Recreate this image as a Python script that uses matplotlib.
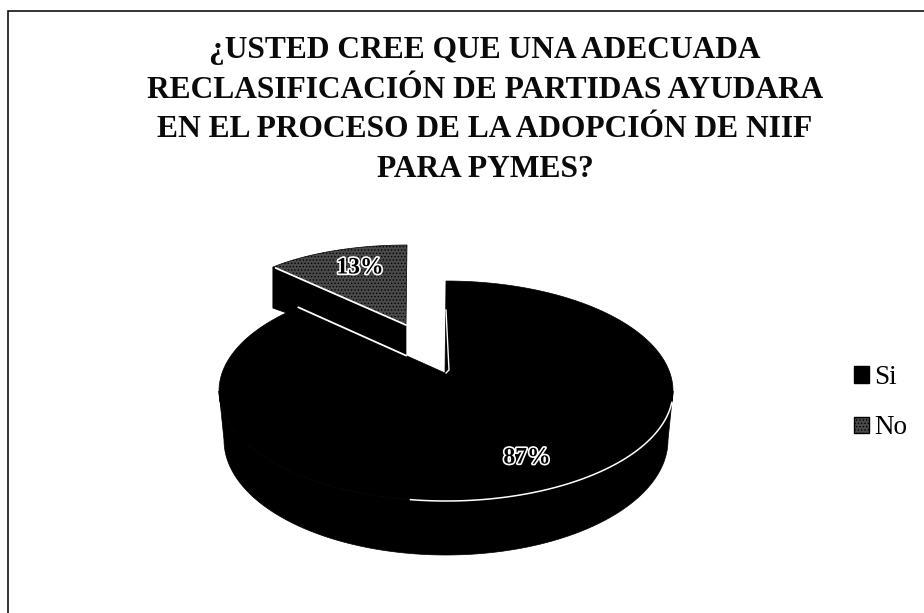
import numpy as np
import matplotlib
matplotlib.use('Agg')
import matplotlib.pyplot as plt
import matplotlib.patheffects as pe
from matplotlib.patches import Polygon, Patch

labels = ['Si', 'No']
valores = [87, 13]
titulo = ('¿USTED CREE QUE UNA ADECUADA\n'
          'RECLASIFICACIÓN DE PARTIDAS AYUDARA\n'
          'EN EL PROCESO DE LA ADOPCIÓN DE NIIF\n'
          'PARA PYMES?')

plt.rcParams['font.family'] = ['Liberation Serif', 'DejaVu Serif']
plt.rcParams['hatch.color'] = 'black'
plt.rcParams['hatch.linewidth'] = 0.6

fig = plt.figure(figsize=(9.24, 6.13), dpi=100)
ax = fig.add_axes([0, 0, 1, 1])
ax.set_xlim(0, 924)
ax.set_ylim(613, 0)
ax.axis('off')

# marco: en el escaneo solo se ven arriba e izquierda
ax.plot([8, 8, 924], [613, 11, 11], color='#111111', lw=1.2, solid_joinstyle='miter')

ax.text(485, 110, titulo, ha='center', va='center', fontsize=22.7, fontweight='bold',
        color='#0a0a0a', linespacing=1.47)


def borde(cx, cy, a, b, t1, t2, n=120):
    t = np.radians(np.linspace(t1, t2, n))
    return np.column_stack([cx + a * np.cos(t), cy - b * np.sin(t)])


total = sum(valores)
ang_si = 360 * valores[0] / total * 1.02  # la perspectiva abre un poco el angulo
ang_no = 360 * valores[1] / total

# porcion grande, en perspectiva
apex = np.array([445, 373])
sup_g = (446, 391, 227, 110)
inf_g = (446, 440, 222, 115)

arriba = borde(*sup_g, 0, -180, 150)
abajo = borde(*inf_g, 0, -180, 150)
ax.add_patch(Polygon(np.vstack([arriba, abajo[::-1]]), fc='black', ec='black', lw=0.5, zorder=2))

arco = borde(*sup_g, 90, 90 - ang_si, 200)
ax.add_patch(Polygon(np.vstack([apex, arco]), fc='black', ec='black', lw=0.5, zorder=3))

# lineas blancas sobre la porcion grande
frente = borde(*sup_g, -6, -99, 80)
ax.plot(frente[:, 0], frente[:, 1], color='white', lw=1.1, zorder=4)
ax.plot([446, 449, 446], [310, 370, 373], color='white', lw=1.0, zorder=4)

# porcion separada
apex2 = np.array([406, 325])
arco2 = borde(407, 315, 184, 70, 90, 90 + ang_no, 60)
izq = arco2[-1]
lat = np.array([apex2, izq, izq + [0, 41], apex2 + [0, 30]])
ax.add_patch(Polygon(lat, fc='black', ec='black', lw=0.5, zorder=1))
ax.add_patch(Polygon(np.vstack([apex2, arco2]), fc='#4a4a4a', ec='black', lw=0.5,
                     hatch='.....', zorder=1.5))
ax.plot([izq[0] + 3, apex2[0]], [izq[1] + 1, apex2[1]], color='white', lw=1.3, zorder=1.6)

# borde blanco del corte, hasta donde empieza el hueco
fin_corte = arco[-1]
s = (406 - fin_corte[0]) / (apex[0] - fin_corte[0])
ax.plot([fin_corte[0], 406], [fin_corte[1], fin_corte[1] + s * (apex[1] - fin_corte[1])],
        color='white', lw=1.3, zorder=4)

# etiquetas
contorno = [pe.withStroke(linewidth=2.4, foreground='white')]
ax.text(527, 458, '%d%%' % valores[0], ha='center', va='center', fontsize=17, fontweight='bold',
        color='black', path_effects=contorno, zorder=6)
ax.text(360, 268, '%d%%' % valores[1], ha='center', va='center', fontsize=17, fontweight='bold',
        color='black', path_effects=contorno, zorder=6)

handles = [Patch(fc='black', ec='black', label=labels[0]),
           Patch(fc='#4a4a4a', ec='black', hatch='.....', label=labels[1])]
ax.legend(handles=handles, loc='center left', bbox_to_anchor=(0.924, 0.343), frameon=False,
          fontsize=19.5, handlelength=0.55, handleheight=0.55, handletextpad=0.2,
          labelspacing=0.93, borderpad=0, borderaxespad=0)

fig.savefig('out.png', dpi=100)
